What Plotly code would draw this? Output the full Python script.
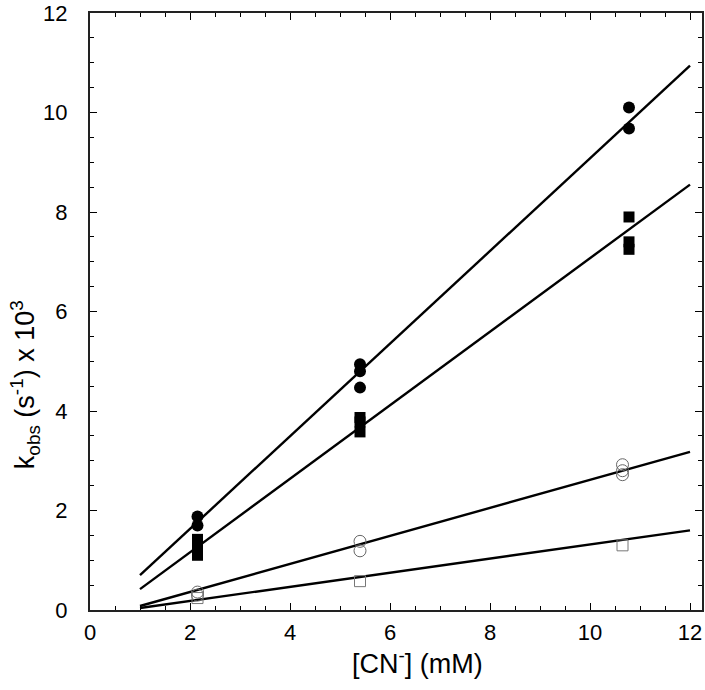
import plotly.graph_objects as go

# Data
fc_x = [2.15, 2.15, 5.4, 5.4, 5.4, 10.78, 10.78]
fc_y = [1.88, 1.70, 4.94, 4.80, 4.47, 10.10, 9.68]

fs_x = [2.15, 2.15, 2.15, 5.4, 5.4, 5.4, 10.78, 10.78, 10.78]
fs_y = [1.42, 1.25, 1.10, 3.87, 3.78, 3.58, 7.90, 7.40, 7.25]

oc_x = [2.15, 2.15, 5.4, 5.4, 10.65, 10.65, 10.65]
oc_y = [0.36, 0.30, 1.38, 1.19, 2.92, 2.80, 2.72]

os_x = [2.15, 5.4, 10.65]
os_y = [0.24, 0.58, 1.30]

fit_x = [1, 12]
fit_fc = [0.70, 10.94]
fit_fs = [0.42, 8.55]
fit_oc = [0.08, 3.18]
fit_os = [0.04, 1.60]

x_title = "[CN<sup>-</sup>] (mM)"
y_title = "k<sub>obs</sub> (s<sup>-1</sup>) x 10<sup>3</sup>"

fig = go.Figure()
for fy in [fit_fc, fit_fs, fit_oc, fit_os]:
    fig.add_trace(go.Scatter(x=fit_x, y=fy, mode="lines",
                             line=dict(color="black", width=2.4), showlegend=False))

fig.add_trace(go.Scatter(x=fc_x, y=fc_y, mode="markers",
                         marker=dict(symbol="circle", size=12, color="black"), showlegend=False))
fig.add_trace(go.Scatter(x=fs_x, y=fs_y, mode="markers",
                         marker=dict(symbol="square", size=11, color="black"), showlegend=False))
fig.add_trace(go.Scatter(x=oc_x, y=oc_y, mode="markers",
                         marker=dict(symbol="circle-open", size=12, color="#666666",
                                     line=dict(width=1)), showlegend=False))
fig.add_trace(go.Scatter(x=os_x, y=os_y, mode="markers",
                         marker=dict(symbol="square-open", size=11, color="#777777",
                                     line=dict(width=1)), showlegend=False))

fam = "Liberation Sans, Arial, Helvetica, sans-serif"
tick_font = dict(family=fam, size=22, color="black")
title_font = dict(family=fam, size=27, color="black")
axis_common = dict(dtick=2, tick0=0, ticks="inside", ticklen=7, tickwidth=1,
                   tickcolor="black", showline=True, linecolor="#222222", linewidth=2,
                   mirror="allticks", showgrid=False, zeroline=False, automargin=False,
                   ticklabeloverflow="allow", tickfont=tick_font,
                   minor=dict(dtick=0.5, ticks="inside", ticklen=4, tickcolor="black"))
fig.update_layout(
    width=705, height=690,
    margin=dict(l=90, r=3, t=13, b=80),
    paper_bgcolor="white", plot_bgcolor="white",
    font=tick_font,
    xaxis=dict(range=[0, 12.24], ticklabelstandoff=2, **axis_common),
    yaxis=dict(range=[0, 12.0001], ticklabelstandoff=16, **axis_common),
    annotations=[
        dict(text=x_title, xref="paper", yref="paper", x=(417 - 90) / 612, y=-52 / 597,
             showarrow=False, xanchor="center", yanchor="middle", font=title_font),
        dict(text=y_title, xref="paper", yref="paper", x=-0.106, y=(610 - 385) / 597,
             showarrow=False, xanchor="center", yanchor="middle", textangle=-90, font=title_font),
    ],
)
fig.write_html("out.html", config={"displayModeBar": False},
               post_script="document.body.style.margin='0';document.body.style.overflow='hidden';")
